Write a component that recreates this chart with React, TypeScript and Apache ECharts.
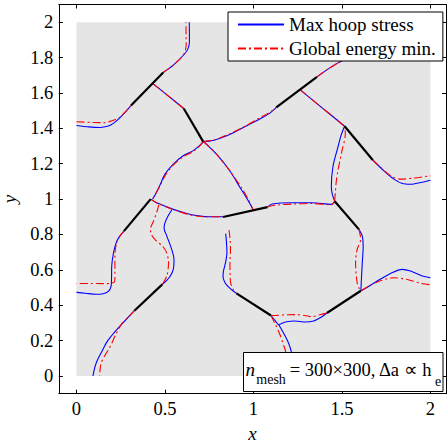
import React, { useEffect, useRef } from "react";
import * as echarts from "echarts";

const FONT = "'Liberation Serif', 'Times New Roman', Times, serif";

// axis ticks
const xTicks = [0, 0.5, 1, 1.5, 2];
const yTicks = [0, 0.2, 0.4, 0.6, 0.8, 1, 1.2, 1.4, 1.6, 1.8, 2];
// domain (gray square)
const domainBounds = [0, 0, 2, 2];

// initial cracks (black)
const initialCracks = [
  [[0.308, 1.529], [0.49, 1.716]],
  [[0.606, 1.512], [0.716, 1.325]],
  [[0.268, 0.819], [0.419, 1.0]],
  [[0.327, 0.369], [0.485, 0.518]],
  [[0.828, 0.899], [1.079, 0.955]],
  [[1.129, 1.518], [1.359, 1.691]],
  [[1.515, 1.412], [1.674, 1.221]],
  [[1.459, 0.988], [1.596, 0.829]],
  [[1.415, 0.356], [1.607, 0.482]],
  [[0.904, 0.467], [1.099, 0.342]],
];

// Max hoop stress (blue) crack paths
const hA = [[0, 1.416], [0.07, 1.408], [0.133, 1.405], [0.18, 1.413], [0.208, 1.428], [0.246, 1.461], [0.308, 1.529]];
const hB = [[0.49, 1.716], [0.547, 1.757], [0.613, 1.823], [0.632, 1.855], [0.638, 1.89], [0.638, 1.95], [0.637, 2.0]];
const hC = [[0.43, 1.654], [0.52, 1.582], [0.606, 1.512]];
const hD1 = [[0.716, 1.325], [0.771, 1.331], [0.849, 1.358], [0.924, 1.395], [1.014, 1.441], [1.093, 1.486], [1.129, 1.518]];
const hD2 = [[0.716, 1.325], [0.698, 1.305], [0.66, 1.274], [0.603, 1.245], [0.547, 1.198], [0.5, 1.141], [0.472, 1.08], [0.45, 1.035], [0.43, 1.0]];
const hD3 = [[0.716, 1.325], [0.726, 1.317], [0.791, 1.254], [0.866, 1.16], [0.924, 1.066], [0.971, 0.99], [0.997, 0.942]];
const hE = [[0.419, 1.0], [0.453, 0.979], [0.5, 0.96], [0.547, 0.942], [0.623, 0.919], [0.69, 0.905], [0.754, 0.9], [0.829, 0.9]];
const hF = [[0.538, 0.938], [0.515, 0.9], [0.498, 0.86], [0.495, 0.835], [0.51, 0.792], [0.538, 0.716], [0.551, 0.659], [0.547, 0.603], [0.53, 0.565], [0.51, 0.54], [0.485, 0.518]];
const hG = [[0.268, 0.819], [0.245, 0.79], [0.227, 0.76], [0.21, 0.7], [0.199, 0.62], [0.198, 0.55], [0.195, 0.505], [0.18, 0.478], [0.15, 0.465], [0.11, 0.462], [0.05, 0.468], [0, 0.473]];
const hH = [[0.327, 0.369], [0.295, 0.335], [0.263, 0.301], [0.23, 0.265], [0.197, 0.226], [0.17, 0.19], [0.15, 0.151], [0.128, 0.11], [0.112, 0.075], [0.1, 0.035], [0.093, 0.0]];
const hJ = [[0.843, 0.805], [0.847, 0.76], [0.85, 0.7], [0.843, 0.645], [0.83, 0.59], [0.828, 0.56], [0.838, 0.53], [0.857, 0.505], [0.88, 0.485], [0.904, 0.467]];
const hKr = [[1.099, 0.342], [1.125, 0.31], [1.142, 0.291], [1.18, 0.305], [1.236, 0.311], [1.292, 0.305], [1.34, 0.311], [1.387, 0.335], [1.415, 0.356]];
const hKd = [[1.142, 0.291], [1.17, 0.243], [1.198, 0.187], [1.213, 0.141], [1.225, 0.08], [1.232, 0.0]];
const hL = [[1.607, 0.482], [1.624, 0.49], [1.699, 0.537], [1.775, 0.58], [1.841, 0.603], [1.888, 0.593], [1.954, 0.565], [2.0, 0.555]];
const hM = [[1.596, 0.829], [1.615, 0.791], [1.62, 0.734], [1.615, 0.64], [1.609, 0.527], [1.607, 0.482]];
const hN = [[1.079, 0.955], [1.105, 0.972], [1.218, 0.979], [1.331, 0.979], [1.441, 0.97], [1.459, 0.988]];
const hO = [[1.459, 0.988], [1.445, 1.03], [1.44, 1.068], [1.449, 1.183], [1.478, 1.296], [1.495, 1.36], [1.515, 1.412]];
const hP = [[1.261, 1.62], [1.388, 1.516], [1.515, 1.412]];
const hQ = [[1.359, 1.691], [1.412, 1.729], [1.478, 1.77], [1.56, 1.81]];
const hR = [[1.674, 1.221], [1.737, 1.16], [1.794, 1.113], [1.841, 1.088], [1.888, 1.084], [1.945, 1.094], [2.0, 1.107]];

// Global energy minimisation (red) crack paths
const rA = [[0, 1.437], [0.1, 1.433], [0.16, 1.432], [0.2, 1.443], [0.244, 1.462], [0.308, 1.529]];
const rB = [[0.49, 1.716], [0.547, 1.757], [0.6, 1.808], [0.615, 1.84], [0.62, 1.88], [0.619, 1.95], [0.619, 2.0]];
const rC = [[0.43, 1.654], [0.52, 1.582], [0.606, 1.512]];
const rD1 = [[0.716, 1.325], [0.78, 1.335], [0.85, 1.362], [0.93, 1.4], [1.01, 1.445], [1.09, 1.49], [1.129, 1.518]];
const rD2 = [[0.716, 1.325], [0.695, 1.3], [0.655, 1.266], [0.605, 1.24], [0.555, 1.2], [0.505, 1.14], [0.475, 1.08], [0.45, 1.035], [0.43, 1.0]];
const rD3 = [[0.716, 1.325], [0.73, 1.315], [0.795, 1.25], [0.87, 1.155], [0.935, 1.06], [0.975, 0.99], [0.997, 0.942]];
const rE = [[0.419, 1.0], [0.455, 0.978], [0.55, 0.94], [0.625, 0.915], [0.69, 0.903], [0.754, 0.9], [0.829, 0.9]];
const rF = [[0.465, 0.968], [0.455, 0.93], [0.435, 0.875], [0.418, 0.83], [0.425, 0.795], [0.45, 0.765], [0.485, 0.735], [0.508, 0.7], [0.52, 0.645], [0.512, 0.57], [0.485, 0.518]];
const rG = [[0.268, 0.819], [0.24, 0.785], [0.225, 0.745], [0.218, 0.7], [0.217, 0.62], [0.217, 0.545], [0.21, 0.528], [0.15, 0.522], [0.08, 0.523], [0, 0.523]];
const rH = [[0.327, 0.369], [0.29, 0.33], [0.253, 0.292], [0.22, 0.23], [0.187, 0.16], [0.16, 0.115], [0.14, 0.075], [0.133, 0.035], [0.131, 0.0]];
const rJ = [[0.862, 0.825], [0.869, 0.76], [0.87, 0.7], [0.867, 0.64], [0.868, 0.58], [0.871, 0.527], [0.885, 0.49], [0.904, 0.467]];
const rKr = [[1.099, 0.342], [1.13, 0.343], [1.18, 0.346], [1.236, 0.347], [1.29, 0.342], [1.331, 0.335], [1.37, 0.345], [1.415, 0.356]];
const rKd = [[1.099, 0.342], [1.115, 0.31], [1.124, 0.292], [1.153, 0.226], [1.172, 0.169], [1.181, 0.141], [1.19, 0.08], [1.195, 0.0]];
const rL = [[1.607, 0.482], [1.699, 0.531], [1.794, 0.555], [1.869, 0.546], [1.945, 0.524], [2.0, 0.516]];
const rM = [[1.596, 0.829], [1.606, 0.772], [1.586, 0.716], [1.577, 0.64], [1.586, 0.527], [1.6, 0.49], [1.607, 0.482]];
const rN = [[1.079, 0.955], [1.12, 0.965], [1.22, 0.972], [1.33, 0.975], [1.44, 0.968], [1.459, 0.988]];
const rO = [[1.459, 0.988], [1.462, 1.028], [1.468, 1.1], [1.477, 1.16], [1.5, 1.273], [1.519, 1.367], [1.515, 1.412]];
const rP = [[1.261, 1.62], [1.388, 1.516], [1.515, 1.412]];
const rQ = [[1.359, 1.691], [1.412, 1.729], [1.478, 1.77], [1.56, 1.81]];
const rR = [[1.674, 1.221], [1.775, 1.132], [1.832, 1.113], [1.907, 1.119], [2.0, 1.132]];

const hoopBranches = [hA, hB, hC, hD1, hD2, hD3, hE, hF, hG, hH, hJ, hKr, hKd, hL, hM, hN, hO, hP, hQ, hR];
const energyBranches = [rA, rB, rC, rD1, rD2, rD3, rE, rF, rG, rH, rJ, rKr, rKd, rL, rM, rN, rO, rP, rQ, rR];

const HOOP = "Max hoop stress";
const ENERGY = "Global energy min.";

export default function App() {
  const ref = useRef<HTMLDivElement>(null);
  useEffect(() => {
    if (!ref.current) return;
    document.body.style.margin = "0";
    const chart = echarts.init(ref.current, null, { renderer: "svg" });
    const xMin = -0.1, xMax = 2.088, yMin = -0.1, yMax = 2.1;
    const axisCommon = {
      type: "value",
      splitLine: { show: false },
      axisLine: { show: true, onZero: false, lineStyle: { color: "#000", width: 1 } },
    };
    const series: any[] = [
      {
        type: "custom",
        silent: true,
        z: 1,
        data: [domainBounds],
        encode: { x: [0, 2], y: [1, 3] },
        renderItem: (_p: any, api: any) => {
          const p0 = api.coord([api.value(0), api.value(1)]);
          const p1 = api.coord([api.value(2), api.value(3)]);
          return {
            type: "rect",
            shape: { x: p0[0], y: p1[1], width: p1[0] - p0[0], height: p0[1] - p1[1] },
            style: { fill: "#e5e5e5" },
          };
        },
      },
      ...hoopBranches.map((d) => ({
        type: "line",
        name: HOOP,
        data: d,
        smooth: 0.3,
        symbol: "none",
        showSymbol: false,
        silent: true,
        z: 3,
        lineStyle: { color: "#0000ff", width: 1.1 },
        itemStyle: { color: "#0000ff" },
      })),
      ...energyBranches.map((d) => ({
        type: "line",
        name: ENERGY,
        data: d,
        smooth: 0.3,
        symbol: "none",
        showSymbol: false,
        silent: true,
        z: 4,
        lineStyle: { color: "#ff0000", width: 1.1, type: [8, 3, 2, 3] },
        itemStyle: { color: "#ff0000" },
      })),
      ...initialCracks.map((d) => ({
        type: "line",
        name: "Initial crack",
        data: d,
        symbol: "none",
        showSymbol: false,
        silent: true,
        z: 5,
        lineStyle: { color: "#000", width: 2.2 },
        itemStyle: { color: "#000" },
      })),
    ];
    chart.setOption({
      animation: false,
      grid: { left: 58.8, top: 4.5, right: 1, bottom: 49.3, containLabel: false, outerBoundsMode: "none" },
      xAxis: [
        {
          ...axisCommon,
          position: "bottom",
          min: xMin,
          max: xMax,
          axisTick: { show: true, inside: true, length: 4, customValues: xTicks, lineStyle: { color: "#000" } },
          axisLabel: { customValues: xTicks, color: "#000", fontFamily: FONT, fontSize: 18.5, margin: 6 },
          name: "x",
          nameLocation: "middle",
          nameGap: 27,
          nameTextStyle: { color: "#000", fontFamily: FONT, fontSize: 19, fontStyle: "italic" },
        },
        {
          ...axisCommon,
          position: "top",
          min: xMin,
          max: xMax,
          axisTick: { show: true, inside: true, length: 4, customValues: xTicks, lineStyle: { color: "#000" } },
          axisLabel: { show: false },
        },
      ],
      yAxis: [
        {
          ...axisCommon,
          position: "left",
          min: yMin,
          max: yMax,
          axisTick: { show: true, inside: true, length: 4, customValues: yTicks, lineStyle: { color: "#000" } },
          axisLabel: { customValues: yTicks, color: "#000", fontFamily: FONT, fontSize: 18.5, margin: 5.5 },
          name: "y",
          nameLocation: "middle",
          nameGap: 31,
          nameTextStyle: { color: "#000", fontFamily: FONT, fontSize: 19, fontStyle: "italic" },
        },
        {
          ...axisCommon,
          position: "right",
          min: yMin,
          max: yMax,
          axisTick: { show: true, inside: true, length: 4, customValues: yTicks, lineStyle: { color: "#000" } },
          axisLabel: { show: false },
        },
      ],
      legend: {
        data: [HOOP, ENERGY],
        orient: "vertical",
        left: 228,
        top: 12,
        itemWidth: 46,
        itemHeight: 12,
        itemGap: 5,
        padding: [3, 7, 3, 9],
        backgroundColor: "#fff",
        borderColor: "#000",
        borderWidth: 1,
        borderRadius: 0,
        selectedMode: false,
        itemStyle: { opacity: 0 },
        textStyle: { color: "#000", fontFamily: FONT, fontSize: 19 },
        z: 20,
      },
      graphic: [
        {
          type: "rect",
          z: 100,
          shape: { x: 243.5, y: 352.5, width: 199.5, height: 39 },
          style: { fill: "#fff", stroke: "#000", lineWidth: 1 },
        },
        {
          type: "text",
          z: 101,
          x: 245.5,
          y: 379,
          style: { text: "n", fontFamily: FONT, fontSize: 19, fontStyle: "italic", fill: "#000", verticalAlign: "bottom" },
        },
        {
          type: "text",
          z: 101,
          x: 256.3,
          y: 386.5,
          style: { text: "mesh", fontFamily: FONT, fontSize: 14, fill: "#000", verticalAlign: "bottom" },
        },
        {
          type: "text",
          z: 101,
          x: 289.7,
          y: 379,
          style: { text: "= 300×300, Δa ∝ h", fontFamily: FONT, fontSize: 18.5, fill: "#000", verticalAlign: "bottom" },
        },
        {
          type: "text",
          z: 101,
          x: 435,
          y: 388.5,
          style: { text: "e", fontFamily: FONT, fontSize: 14, fill: "#000", verticalAlign: "bottom" },
        },
      ],
      series,
    });
    return () => chart.dispose();
  }, []);
  return <div ref={ref} style={{ width: 447, height: 443 }} />;
}
